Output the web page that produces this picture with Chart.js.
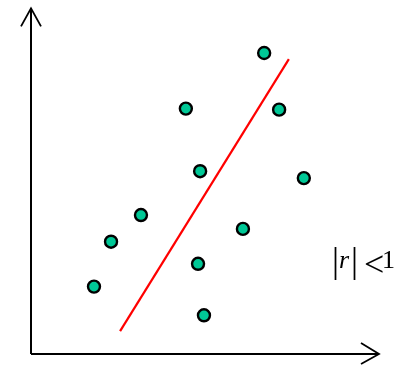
<!DOCTYPE html>
<html>
<head>
<meta charset="utf-8">
<script src="https://cdn.jsdelivr.net/npm/chart.js@4"></script>
<style>
  html, body { margin: 0; padding: 0; background: #fff; }
  canvas { display: block; }
</style>
</head>
<body>
<canvas id="chart1" width="398" height="366"></canvas>
<script>
// sample points (x, y) in plot units, origin at the axis corner
const xs = [6.70, 4.45, 7.13, 4.86, 7.84, 3.16, 6.09, 2.30, 4.80, 1.81, 4.97];
const ys = [8.71, 7.10, 7.07, 5.29, 5.09, 4.02, 3.62, 3.25, 2.61, 1.95, 1.12];

// fitted line end points
const fitX = [2.56, 7.41];
const fitY = [0.66, 8.53];

const axisMax = 10;
const serif = '"Liberation Serif", "Times New Roman", serif';

const points = xs.map((x, i) => ({x: x, y: ys[i]}));
const fitLine = fitX.map((x, i) => ({x: x, y: fitY[i]}));

// axes with arrow heads plus the |r|<1 label
const axesPlugin = {
  id: 'axes',
  beforeDatasetsDraw(chart) {
    const c = chart.ctx;
    const a = chart.chartArea;
    c.save();
    c.strokeStyle = '#000';
    c.lineWidth = 2;
    c.beginPath();
    c.moveTo(a.left, a.bottom);
    c.lineTo(a.left, a.top);
    c.moveTo(a.left, a.bottom);
    c.lineTo(a.right, a.bottom);
    c.stroke();

    c.lineWidth = 1.8;
    c.beginPath();
    c.moveTo(a.left - 10, a.top + 18);
    c.lineTo(a.left, a.top);
    c.lineTo(a.left + 10, a.top + 18);
    c.moveTo(a.right - 18, a.bottom - 11);
    c.lineTo(a.right, a.bottom);
    c.lineTo(a.right - 18, a.bottom + 10);
    c.stroke();

    c.fillStyle = '#000';
    c.textBaseline = 'alphabetic';
    c.font = '35px ' + serif;
    c.fillText('|', 332, 272);
    c.fillText('|', 351, 272);
    c.font = 'italic 26px ' + serif;
    c.fillText('r', 339, 268);
    // the "<" glyph sits high in this face, so drop its baseline
    c.font = '36px ' + serif;
    c.fillText('<', 364, 276);
    c.font = '26px ' + serif;
    c.fillText('1', 382, 268);
    c.restore();
  }
};

async function init() {
  await Promise.all([
    document.fonts.load('24px "Liberation Serif"'),
    document.fonts.load('italic 24px "Liberation Serif"')
  ]);

  const ctx = document.getElementById('chart1');
  new Chart(ctx, {
    type: 'scatter',
    data: {
      datasets: [{
        label: 'fit',
        type: 'line',
        data: fitLine,
        borderColor: 'rgb(255, 0, 0)',
        borderWidth: 2.2,
        pointRadius: 0,
        fill: false,
        clip: false
      }, {
        label: 'samples',
        data: points,
        backgroundColor: '#00c896',
        borderColor: '#000',
        borderWidth: 2.4,
        pointRadius: 6,
        clip: false
      }]
    },
    options: {
      responsive: false,
      animation: false,
      layout: {
        padding: {left: 31, right: 19, top: 6, bottom: 12}
      },
      plugins: {
        legend: {display: false},
        tooltip: {enabled: false}
      },
      scales: {
        x: {type: 'linear', min: 0, max: axisMax, display: false},
        y: {type: 'linear', min: 0, max: axisMax, display: false}
      }
    },
    plugins: [axesPlugin]
  });
}

init();
</script>
</body>
</html>
